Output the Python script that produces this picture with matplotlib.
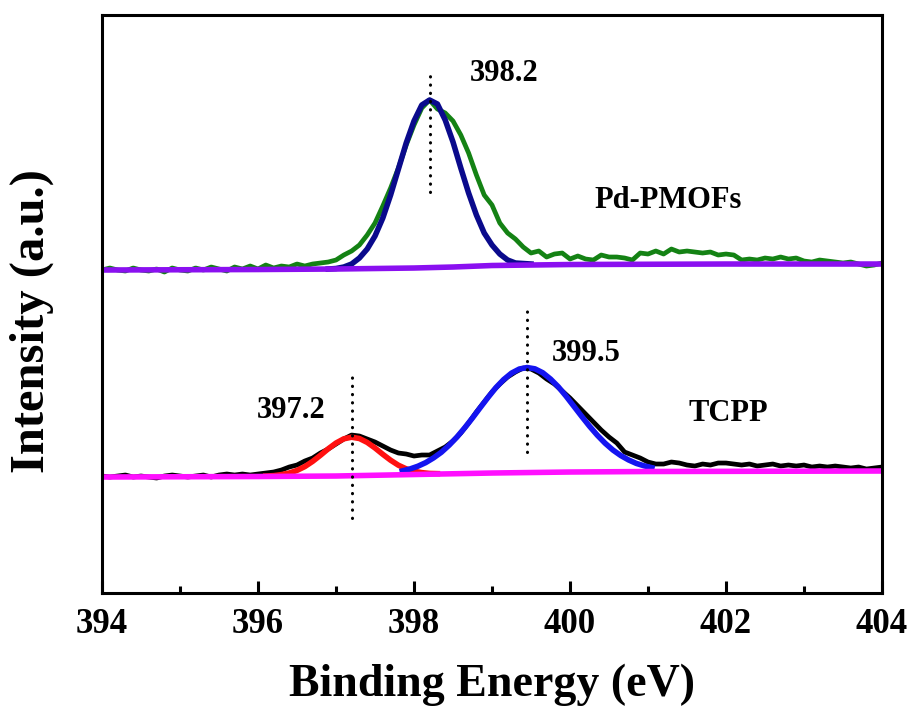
"""
    N 1s XPS spectra of TCPP and Pd-PMOFs
"""

import matplotlib.pyplot as plt
from matplotlib.ticker import MultipleLocator

plt.rcParams['font.family'] = ['Liberation Serif', 'DejaVu Serif']
plt.rcParams['font.weight'] = 'bold'

# measured spectra, 394.0 .. 404.0 eV in 0.1 eV steps
energy = [round(394 + 0.1 * i, 1) for i in range(101)]

pd_pmofs = [323, 325, 323, 322, 325, 323, 322, 324, 321, 325,
            323, 322, 325, 323, 326, 324, 322, 326, 324, 327,
            324, 328, 325, 327, 326, 329, 327, 329, 330, 331,
            333, 338, 342, 348, 358, 370, 387, 405, 425, 448,
            468, 485, 493, 484, 480, 472, 458, 440, 418, 398,
            388, 370, 360, 354, 346, 340, 342, 336, 339, 340,
            334, 337, 334, 333, 338, 336, 336, 335, 333, 340,
            339, 342, 339, 344, 341, 342, 341, 340, 341, 338,
            339, 338, 333, 334, 333, 335, 334, 336, 334, 335,
            332, 331, 333, 332, 331, 330, 331, 329, 327, 328,
            330]

tcpp = [117, 116, 117, 118, 116, 117, 116, 115, 117, 118,
        117, 116, 117, 118, 116, 118, 119, 118, 119, 118,
        119, 120, 121, 123, 126, 128, 132, 135, 140, 144,
        149, 154, 158, 157, 154, 151, 147, 143, 140, 139,
        137, 138, 138, 142, 146, 152, 160, 170, 181, 191,
        201, 209, 216, 221, 225, 224, 220, 214, 209, 202,
        195, 187, 179, 171, 163, 156, 150, 141, 138, 135,
        131, 129, 129, 131, 130, 128, 127, 129, 128, 130,
        130, 129, 128, 129, 127, 128, 129, 127, 128, 127,
        128, 126, 127, 126, 127, 126, 125, 126, 124, 125,
        126]

# backgrounds
pd_bg_x = [394, 396, 397, 397.5, 398, 398.5, 399, 399.5, 400, 402, 404]
pd_bg_y = [323, 323.5, 324, 324.5, 325, 326, 327.5, 328, 328.5, 329, 329]
tc_bg_x = [394, 396, 397, 398, 399, 400, 401, 404]
tc_bg_y = [116, 116.5, 117, 118.5, 120, 121, 121.5, 122]

# fitted components
pd_fit_x = [396.9, 397.0, 397.1, 397.2, 397.3, 397.4, 397.5, 397.6, 397.7,
            397.8, 397.9, 398.0, 398.1, 398.2, 398.3, 398.4, 398.5, 398.6,
            398.7, 398.8, 398.9, 399.0, 399.1, 399.2, 399.3, 399.4, 399.5]
pd_fit_y = [324, 324.5, 326, 329, 335, 344, 357, 375, 398,
            424, 450, 472, 488, 493, 489, 473, 451, 425,
            400, 378, 360, 348, 339, 333, 330, 329.5, 329]

red_x = [396.1, 396.2, 396.3, 396.4, 396.5, 396.6, 396.7, 396.8, 396.9,
         397.0, 397.1, 397.2, 397.3, 397.4, 397.5, 397.6, 397.7, 397.8,
         397.9, 398.0, 398.1, 398.2, 398.3]
red_y = [117.0, 117.4, 118.4, 120.0, 122.6, 126.4, 131.6, 137.7, 144.2,
         150.0, 154.2, 155.8, 154.5, 150.6, 145.0, 138.7, 132.8, 127.8,
         124.2, 121.8, 120.4, 119.6, 119.4]

blue_x = [397.85, 397.95, 398.05, 398.15, 398.25, 398.35,
          398.45, 398.55, 398.65, 398.75, 398.85, 398.95, 399.05, 399.15,
          399.25, 399.35, 399.45, 399.55, 399.65, 399.75, 399.85, 399.95,
          400.05, 400.15, 400.25, 400.35, 400.45, 400.55, 400.65, 400.75,
          400.85, 400.95, 401.05]
blue_y = [122.1, 124.1, 126.8, 130.4, 135.1, 140.7,
          147.8, 155.9, 165.2, 175.1, 185.5, 195.7, 205.4, 213.5,
          219.9, 224.0, 225.5, 224.2, 220.3, 214.0, 206.2, 196.8,
          186.7, 176.6, 166.8, 157.8, 149.8, 143.0, 137.5, 133.1,
          129.6, 127.2, 125.3]

# peak markers: position, line bottom, line top
peak_pos = [398.2, 397.2, 399.45]
peak_lo = [401, 75, 141]
peak_hi = [518, 220, 285]

fig = plt.figure(figsize=(9.14, 7.08), dpi=100)
ax = fig.add_axes([0.1116, 0.1624, 0.8534, 0.8164])

# Pd-PMOFs
ax.plot(energy, pd_pmofs, color='#148214', lw=3.4)
ax.plot(pd_fit_x, pd_fit_y, color='#0a0a8c', lw=4)
ax.plot(pd_bg_x, pd_bg_y, color='#8a10f0', lw=4)

# TCPP
ax.plot(energy, tcpp, color='k', lw=3.4)
ax.plot(red_x, red_y, color='#ff1010', lw=4)
ax.plot(blue_x, blue_y, color='#1414f0', lw=4)
ax.plot(tc_bg_x, tc_bg_y, color='#ff10ff', lw=4)

for x, lo, hi in zip(peak_pos, peak_lo, peak_hi):
    ax.plot([x, x], [lo, hi], color='k', lw=2.2,
            linestyle=(0, (0.1, 2.6)), dash_capstyle='round')

ax.text(399.16, 520, '398.2', fontsize=22, ha='center', va='center')
ax.text(401.26, 393, 'Pd-PMOFs', fontsize=22, ha='center', va='center')
ax.text(396.42, 183, '397.2', fontsize=22, ha='center', va='center')
ax.text(400.21, 240, '399.5', fontsize=22, ha='center', va='center')
ax.text(402.03, 180, 'TCPP', fontsize=22, ha='center', va='center')

ax.set_xlim(394, 404)
ax.set_ylim(0, 578)
ax.xaxis.set_major_locator(MultipleLocator(2))
ax.xaxis.set_minor_locator(MultipleLocator(1))
ax.set_yticks([])
ax.tick_params(axis='x', which='major', direction='in', length=9, width=2.2,
               labelsize=25, pad=11)
ax.tick_params(axis='x', which='minor', direction='in', length=5, width=2.2)
for s in ax.spines.values():
    s.set_linewidth(2.2)

ax.set_xlabel('Binding Energy (eV)', fontsize=33, fontweight='bold',
              labelpad=16)
ax.set_ylabel('Intensity (a.u.)', fontsize=35, fontweight='bold')
ax.yaxis.set_label_coords(-0.062, 0.47)

plt.savefig('out.png', dpi=100)
